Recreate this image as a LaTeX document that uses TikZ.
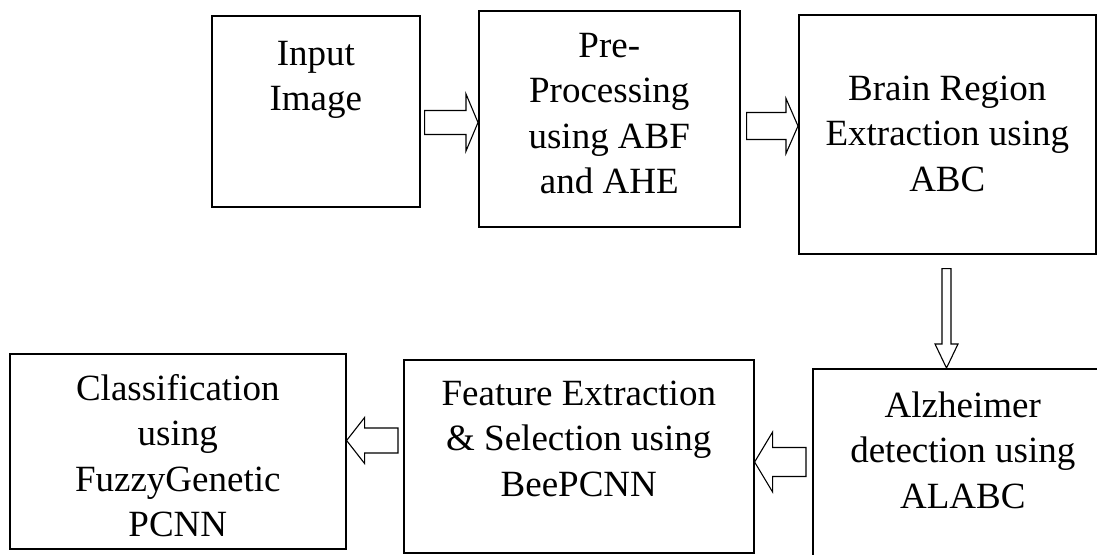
\documentclass[tikz,border=0pt]{standalone}
\usepackage{fontspec}
\setmainfont{Liberation Serif}
\usetikzlibrary{calc}

% outlined block arrow: #1 name, #2 tail, #3 tip, #4 shaft half-width,
% #5 head half-width, #6 head length
\newcommand\blockarrow[6]{%
  \coordinate (#1h) at ($(#3)!#6!(#2)$);
  \draw[arr] ($(#2)!#4!90:(#3)$) -- ($(#1h)!#4!90:(#3)$) -- ($(#1h)!#5!90:(#3)$)
    -- (#3) -- ($(#1h)!#5!-90:(#3)$) -- ($(#1h)!#4!-90:(#3)$)
    -- ($(#2)!#4!-90:(#3)$) -- cycle;}

\begin{document}
\begin{tikzpicture}[x=1pt, y=-1pt,
  box/.style={draw, line width=1.6pt, inner sep=0pt, anchor=north west},
  txt/.style={anchor=base, align=center, inner sep=0pt,
              font=\fontsize{37}{45.5}\selectfont},
  arr/.style={draw, line width=1.1pt, fill=white, line join=miter}]
\clip (0,0) rectangle (1097,554);
\fill[white] (0,0) rectangle (1097,554);

% process boxes
\node[box, minimum width=208pt, minimum height=191pt] (b1) at (211,15) {};
\node[box, minimum width=261pt, minimum height=216pt] (b2) at (478,10) {};
\node[box, minimum width=297pt, minimum height=239pt] (b3) at (798,14) {};
\node[box, minimum width=300pt, minimum height=260pt] (b4) at (812,368) {};
\node[box, minimum width=350pt, minimum height=193pt] (b5) at (403,359) {};
\node[box, minimum width=336pt, minimum height=195pt] (b6) at (9,353) {};

% box texts (anchored at the baseline of the last line)
\node[txt] (t1) at ($(b1.north)+(0,95.5)$) {Input\\Image};
\node[txt] (t2) at ($(b2.north)+(0,183.5)$) {Pre-\\Processing\\using ABF\\and AHE};
\node[txt] (t3) at ($(b3.north)+(0,177)$) {Brain Region\\Extraction using\\ABC};
\node[txt] (t4) at ($(b4.north)+(0,140)$) {Alzheimer\\detection using\\ALABC};
\node[txt] (t5) at ($(b5.north)+(0,137)$) {Feature Extraction\\\& Selection using\\BeePCNN};
\node[txt] (t6) at ($(b6.north)+(0,183.5)$) {Classification\\using\\FuzzyGenetic\\PCNN};

% flow arrows
\coordinate (a1t) at ($(b1.east |- 0,122.5)+(4,0)$);
\coordinate (a1p) at (b2.west |- a1t);
\blockarrow{a1}{a1t}{a1p}{12pt}{28.5pt}{12pt}

\coordinate (a2t) at ($(b2.east |- 0,126)+(6,0)$);
\coordinate (a2p) at (b3.west |- a2t);
\blockarrow{a2}{a2t}{a2p}{13.5pt}{27.5pt}{12pt}

\coordinate (a3t) at ($(b3.south -| 946.5,0)+(0,14)$);
\coordinate (a3p) at (b4.north -| a3t);
\blockarrow{a3}{a3t}{a3p}{4.5pt}{11.5pt}{24pt}

\coordinate (a4t) at ($(b4.west |- 0,462)+(-6,0)$);
\coordinate (a4p) at (b5.east |- a4t);
\blockarrow{a4}{a4t}{a4p}{14.5pt}{30pt}{18pt}

\coordinate (a5t) at ($(b5.west |- 0,440.5)+(-5,0)$);
\coordinate (a5p) at (b6.east |- a5t);
\blockarrow{a5}{a5t}{a5p}{12.5pt}{23pt}{18pt}
\end{tikzpicture}
\end{document}
